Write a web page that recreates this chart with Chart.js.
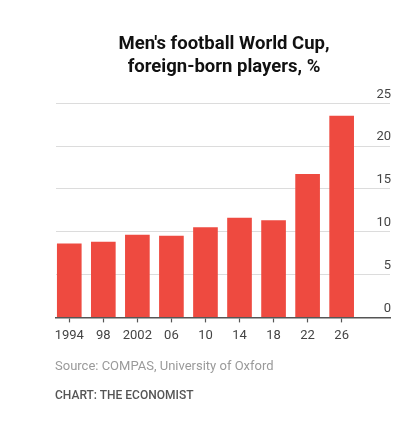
<!DOCTYPE html>
<html>
<head>
<meta charset="utf-8">
<script src="https://cdn.jsdelivr.net/npm/chart.js@4.4.1/dist/chart.umd.min.js"></script>
<style>
  html, body { margin: 0; padding: 0; background: #fff; }
  #wrap { position: relative; width: 420px; height: 434px; }
  .note { position: absolute; left: 55px; font-family: Roboto, "Liberation Sans", sans-serif; white-space: nowrap; }
  #source { top: 358px; font-size: 13px; color: #9a9a9a; }
  #credit { top: 388px; font-size: 12px; color: #555; font-weight: 500; }
</style>
</head>
<body>
<div id="wrap">
  <canvas id="chart" width="420" height="434"></canvas>
  <div class="note" id="source">Source: COMPAS, University of Oxford</div>
  <div class="note" id="credit">CHART: THE ECONOMIST</div>
</div>
<script>
// Daten
const years = ["1994", "98", "2002", "06", "10", "14", "18", "22", "26"];
const foreignBorn = [8.6, 8.8, 9.6, 9.5, 10.5, 11.6, 11.3, 16.7, 23.5];
const yTicks = [0, 5, 10, 15, 20, 25];

const points = foreignBorn.map((v, i) => ({ x: i, y: v }));

const ctx = document.getElementById("chart").getContext("2d");
const chart = new Chart(ctx, {
  type: "bar",
  data: {
    datasets: [
      {
        label: "Foreign-born players, %",
        data: points,
        backgroundColor: "#ee4a40",
        borderWidth: 0,
        barThickness: 24,
      },
    ],
  },
  options: {
    responsive: false,
    devicePixelRatio: 1,
    animation: false,
    layout: {
      padding: { left: 56, right: 28, top: 0, bottom: 84 },
    },
    plugins: {
      legend: { display: false },
      tooltip: { enabled: false },
      title: {
        display: true,
        text: ["Men's football World Cup,", "foreign-born players, %"],
        color: "#111",
        font: { family: "Roboto", size: 18.5, weight: "bold", lineHeight: 1.25 },
        padding: { top: 33, bottom: 24 },
      },
    },
    scales: {
      x: {
        type: "linear",
        min: -0.39,
        max: 9.42,
        offset: false,
        grid: {
          offset: false,
          drawOnChartArea: false,
          drawTicks: true,
          tickLength: 5,
          tickColor: "#555",
          tickWidth: 1.2,
        },
        border: { display: true, color: "#555", width: 1.5, z: 1 },
        afterBuildTicks: (axis) => {
          axis.ticks = years.map((_, i) => ({ value: i }));
        },
        ticks: {
          stepSize: 1,
          includeBounds: false,
          autoSkip: false,
          maxRotation: 0,
          padding: 6,
          color: "#444",
          font: { family: "Roboto", size: 13 },
          callback: (v) => years[v] ?? "",
        },
      },
      y: {
        position: "right",
        min: 0,
        max: 25,
        afterBuildTicks: (axis) => {
          axis.ticks = yTicks.map((v) => ({ value: v }));
        },
        grid: { color: "#dcdcdc", lineWidth: 1, drawTicks: false },
        border: { display: false },
        ticks: {
          mirror: true,
          padding: 1,
          labelOffset: -9,
          color: "#444",
          font: { family: "Roboto", size: 13 },
        },
      },
    },
  },
});
</script>
</body>
</html>
